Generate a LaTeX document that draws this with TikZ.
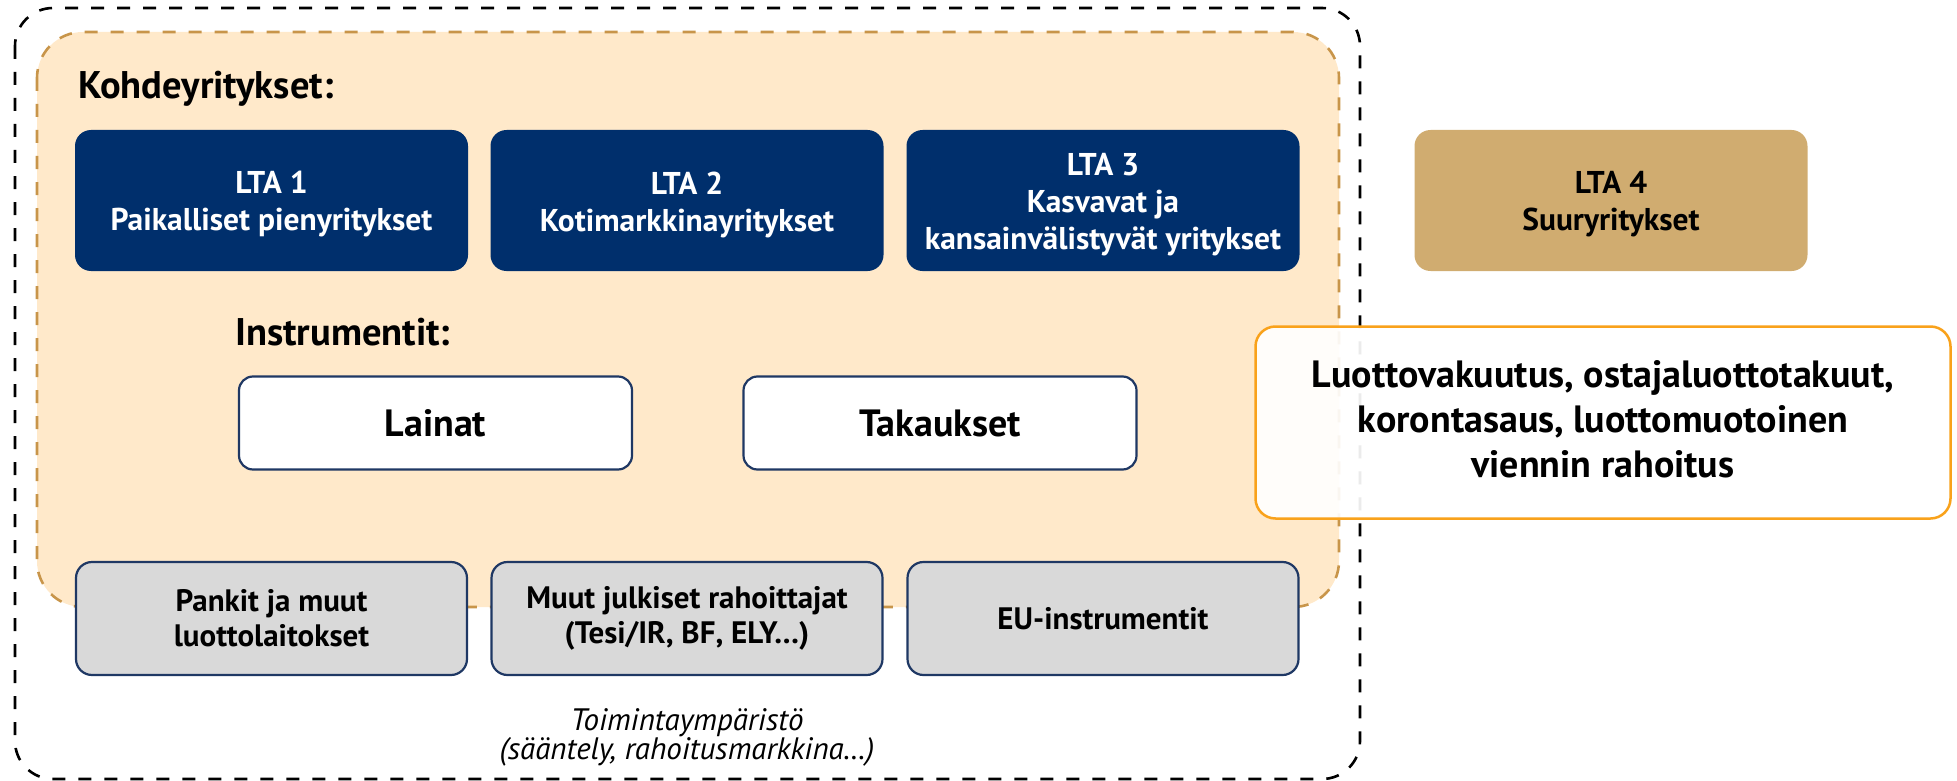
\documentclass[tikz,border=0pt]{standalone}
\usepackage{fontspec}
\setmainfont{PT Sans}
\definecolor{navy}{HTML}{002F6C}
\definecolor{navyline}{HTML}{1F3864}
\definecolor{peach}{HTML}{FFE9CA}
\definecolor{peachline}{HTML}{C8954A}
\definecolor{gold}{HTML}{D0AC70}
\definecolor{orangeline}{HTML}{F9A21B}
\definecolor{greyfill}{HTML}{D9D9D9}
\tikzset{
  ltabox/.style={rectangle, rounded corners=16, fill=navy, minimum width=393, minimum height=141, inner sep=0},
  goldbox/.style={ltabox, fill=gold},
  ltatext/.style={inner sep=0, align=center, text=white, font=\bfseries\fontsize{31.5}{37}\selectfont},
  goldtext/.style={ltatext, text=black},
  instbox/.style={rectangle, rounded corners=14, fill=white, draw=navyline, line width=2.2, minimum width=393, minimum height=93, inner sep=0, align=center, font=\bfseries\fontsize{38}{44}\selectfont},
  greybox/.style={rectangle, rounded corners=16, fill=greyfill, draw=navyline, line width=2.2, minimum width=391, minimum height=113, inner sep=0, align=center, font=\bfseries\fontsize{31}{35}\selectfont},
  orbox/.style={rectangle, rounded corners=20, fill=white, fill opacity=0.92, draw=orangeline, draw opacity=1, line width=2.5, minimum width=695, minimum height=192, inner sep=0},
  ortext/.style={inner sep=0, align=center, font=\bfseries\fontsize{38}{45}\selectfont},
  heading/.style={anchor=base west, inner sep=0, font=\bfseries\fontsize{38.5}{42}\selectfont},
}
\begin{document}
\begin{tikzpicture}[x=1pt,y=-1pt]
\useasboundingbox (0,0) rectangle (1957,781);
% outer environment
\draw[black, line width=2.6, dash pattern=on 13 off 13, rounded corners=38] (15,8) rectangle (1360,779);
% target companies area
\draw[peachline, fill=peach, line width=2.6, dash pattern=on 13 off 13, rounded corners=46] (37,32) rectangle (1339,607);
\node[heading] (kohde) at (78,99) {Kohdeyritykset:};
\node[ltabox] (lta1) at (271.5,200.5) {};
\node[ltabox] (lta2) at (687,200.5) {};
\node[ltabox] (lta3) at (1103,200.5) {};
\node[goldbox] (lta4) at (1611,200.5) {};
\node[ltatext, yshift=-4] (lta1t) at (lta1.center) {LTA 1\\Paikalliset pienyritykset};
\node[ltatext, yshift=-4] (lta2t) at (lta2.center) {LTA 2\\Kotimarkkinayritykset};
\node[ltatext, yshift=-4] (lta3t) at (lta3.center) {LTA 3\\Kasvavat ja\\kansainvälistyvät yritykset};
\node[goldtext, yshift=-4] (lta4t) at (lta4.center) {LTA 4\\Suuryritykset};
\node[heading] (instr) at (235,345) {Instrumentit:};
\node[instbox] (lainat) at (435.5,423) {Lainat};
\node[instbox] (takaukset) at (940,423) {Takaukset};
\node[orbox] (vienti) at (1603,422.5) {};
\node[ortext, yshift=3] (vientit) at (vienti.center) {Luottovakuutus, ostajaluottotakuut,\\korontasaus, luottomuotoinen\\viennin rahoitus};
\node[greybox] (pankit) at (271.5,618.5) {Pankit ja muut\\luottolaitokset};
\node[greybox] (julkiset) at (687,618.5) {Muut julkiset rahoittajat\\(Tesi/IR, BF, ELY…)};
\node[greybox] (eu) at (1103,618.5) {EU-instrumentit};
\node[align=center, inner sep=0, font=\itshape\fontsize{31}{29}\selectfont] (toimi) at (687,737) {Toimintaympäristö\\(sääntely, rahoitusmarkkina…)};
\end{tikzpicture}
\end{document}
